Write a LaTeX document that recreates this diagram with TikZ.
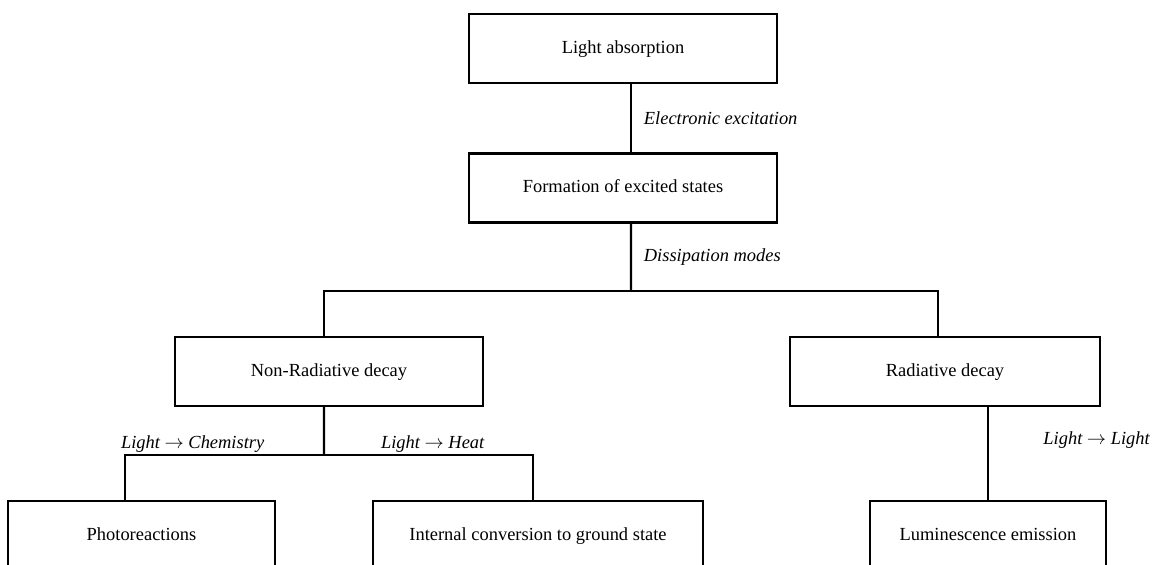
\documentclass[tikz,border=0pt]{standalone}
\usepackage{fontspec}
\setmainfont{Liberation Serif}
\usetikzlibrary{positioning,calc}

\begin{document}
\begin{tikzpicture}[
    stage/.style={rectangle, draw=black, line width=1.3pt, minimum width=#1, minimum height=1.38cm, text height=1.6ex, text depth=.4ex, font=\fontsize{10.5}{12}\selectfont, inner sep=2pt},
    stage/.default=6.16cm,
    mode/.style={font=\fontsize{10.5}{12}\selectfont\itshape, inner sep=1pt},
    link/.style={line width=1.3pt}
  ]
    \useasboundingbox (0,0) rectangle (23.12,-11.28);

    % Main chain
    \node[stage] (absorb) at (12.46,-0.97) {Light absorption};
    \node[stage] (excited) at (12.46,-3.76) {Formation of excited states};

    % Decay modes
    \node[stage] (nonrad) at (6.58,-7.43) {Non-Radiative decay};
    \node[stage=6.2cm] (rad) at (18.9,-7.43) {Radiative decay};

    % Outcomes (cut by the page edge)
    \node[stage=5.34cm] (photo) at (2.83,-10.71) {Photoreactions};
    \node[stage=6.6cm] (internal) at (10.76,-10.71) {Internal conversion to ground state};
    \node[stage=4.72cm] (lumin) at (19.76,-10.71) {Luminescence emission};

    \coordinate (split) at (12.62,-5.82);
    \coordinate (nsplit) at (6.48,-9.1);

    % Connections
    \draw[link] ([xshift=0.16cm]absorb.south) -- node[mode, right, xshift=0.2cm] {Electronic excitation} ([xshift=0.16cm]excited.north);
    \draw[link] ([xshift=0.16cm]excited.south) -- node[mode, right, xshift=0.2cm] {Dissipation modes} (split);
    \draw[link] ([xshift=-0.1cm]nonrad.north) |- (split) -| ([xshift=-0.14cm]rad.north);

    \draw[link] ([xshift=-0.1cm]nonrad.south) -- (nsplit);
    \draw[link] ([xshift=-0.33cm]photo.north) |- node[mode, above, pos=0.67] {Light $\rightarrow$ Chemistry} (nsplit);
    \draw[link] (nsplit) -| node[mode, above, pos=0.26] {Light $\rightarrow$ Heat} ([xshift=-0.1cm]internal.north);

    \draw[link] (rad.south -| lumin.north) -- node[mode, right, pos=0.36, xshift=1.05cm] {Light $\rightarrow$ Light} (lumin.north);
  \end{tikzpicture}
\end{document}
